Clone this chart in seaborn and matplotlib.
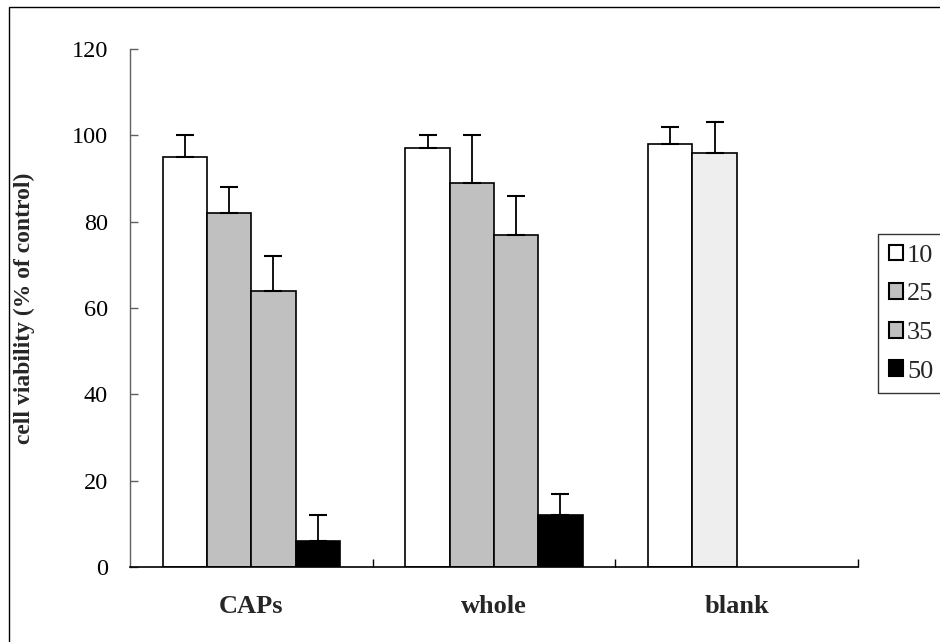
import numpy as np
import pandas as pd
import matplotlib
matplotlib.use("Agg")
import matplotlib.pyplot as plt
from matplotlib.patches import Rectangle
import seaborn as sns

categories = ["CAPs", "whole", "blank"]
hue_levels = ["10", "25", "35", "50"]
vals_10 = [95, 97, 98]
vals_25 = [82, 89, 96]
vals_35 = [64, 77, np.nan]
vals_50 = [6, 12, np.nan]
err_10 = [5, 3, 4]
err_25 = [6, 11, 7]
err_35 = [8, 9, np.nan]
err_50 = [6, 5, np.nan]
yticks = [0, 20, 40, 60, 80, 100, 120]
palette = {"10": "#FFFFFF", "25": "#C0C0C0", "35": "#C0C0C0", "50": "#000000"}
override = {("blank", "25"): "#EEEEEE"}

vals = {"10": vals_10, "25": vals_25, "35": vals_35, "50": vals_50}
errs = {"10": err_10, "25": err_25, "35": err_35, "50": err_50}
rows = []
for h in hue_levels:
    for c, v, e in zip(categories, vals[h], errs[h]):
        rows.append({"group": c, "conc": h, "value": v, "err": e})
df = pd.DataFrame(rows)

sns.set_theme(style="white")
plt.rcParams["font.family"] = ["Liberation Serif", "DejaVu Serif"]

fig = plt.figure(figsize=(9.4, 6.42), dpi=100)
ax = fig.add_axes([130/940, 1-567/642, 728/940, (567-49)/642])

sns.barplot(data=df.dropna(subset=["value"]), x="group", y="value", hue="conc",
            order=categories, hue_order=hue_levels, palette=palette,
            saturation=1, width=0.73, gap=0, errorbar=None,
            edgecolor="black", linewidth=1.2, ax=ax, legend=True)

for h, cont in zip(hue_levels, ax.containers):
    for bar in cont:
        cx = bar.get_x() + bar.get_width() / 2
        ci = int(round(cx))
        cat = categories[ci]
        if (cat, h) in override:
            bar.set_facecolor(override[(cat, h)])
        e = errs[h][ci]
        ax.errorbar(cx, bar.get_height(), yerr=[[0], [e]], fmt="none",
                    ecolor="black", elinewidth=1.3, capsize=6.5, capthick=1.5,
                    zorder=1)

ax.set_xlim(-0.5, 2.5)
ax.set_ylim(0, 120)
ax.set_yticks(yticks)
ax.set_xlabel("")
ax.set_ylabel("cell viability (% of control)", fontsize=17, fontweight="bold",
              labelpad=26)
ax.tick_params(axis="y", direction="in", length=6, width=1, pad=16,
               labelsize=17.5, colors="#606060", labelcolor="black", left=True)
ax.tick_params(axis="x", which="major", length=0, pad=20, labelsize=19)
for lab in ax.get_xticklabels():
    lab.set_fontweight("bold")
ax.set_xticks([0.5, 1.5, 2.5], minor=True)
ax.tick_params(axis="x", which="minor", direction="in", length=6, width=1,
               color="black", bottom=True)
sns.despine(ax=ax)
ax.spines["left"].set_color("#606060")
ax.spines["left"].set_linewidth(1)
ax.spines["bottom"].set_color("black")
ax.spines["bottom"].set_linewidth(1.2)

handles, labels = ax.get_legend_handles_labels()
leg = ax.legend(handles, labels, loc="upper left",
                bbox_to_anchor=(878/940, 1-234/642), bbox_transform=fig.transFigure,
                borderaxespad=0, frameon=True, fancybox=False, shadow=False,
                fontsize=19, handlelength=0.55, handleheight=0.55,
                handletextpad=0.15, labelspacing=0.62, borderpad=0.4)
leg.get_frame().set_edgecolor("black")
leg.get_frame().set_linewidth(1)
for p in leg.get_patches():
    p.set_edgecolor("black")
    p.set_linewidth(1.5)

fig.patches.append(Rectangle((9/940, -0.1), 1.2, 1 - 7/642 + 0.1,
                             transform=fig.transFigure, fill=False,
                             edgecolor="black", linewidth=1))

fig.savefig("out.png", dpi=100)
